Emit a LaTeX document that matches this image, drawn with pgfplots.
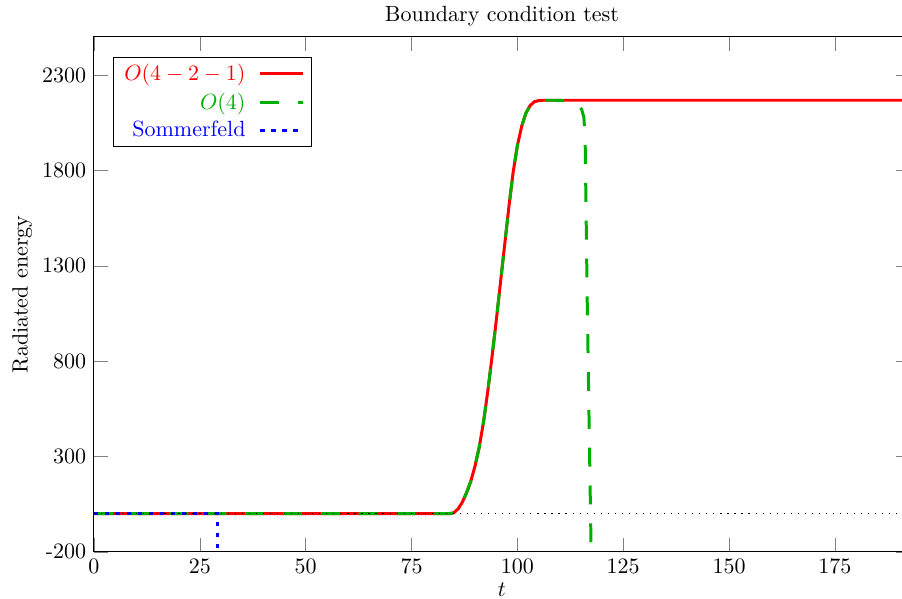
\documentclass[border=0pt]{standalone}
\usepackage{pgfplots}
\pgfplotsset{compat=1.18}
\definecolor{gpgreen}{RGB}{0,176,0}
\begin{document}
\begin{tikzpicture}
\begin{axis}[
  scale only axis, width=371pt, height=234.1pt,
  xmin=0, xmax=192.7, ymin=-200, ymax=2500,
  xtick={0,25,50,75,100,125,150,175},
  ytick={-200,300,800,1300,1800,2300},
  yticklabels={-200,300,800,1300,1800,2300},
  tick align=inside, major tick length=6.4pt,
  xlabel={$t$}, ylabel={Radiated energy},
  xlabel style={yshift=2.5pt},
  ylabel style={yshift=-2.3pt},
  title={Boundary condition test},
  title style={yshift=-4.5pt},
  legend plot pos=right,
  legend cell align=right,
  legend style={at={(0,1)}, anchor=north west, xshift=8.6pt, yshift=-9.1pt,
    draw=black, row sep=0pt, column sep=4pt, inner ysep=1pt},
  legend image code/.code={\draw[#1] (0pt,0pt) -- (19.5pt,0pt);},
]
\coordinate (sw) at (rel axis cs:0,0);
\coordinate (ne) at (rel axis cs:1,1);
\addplot[red, line width=1.36pt] coordinates {
(0,0) (84,0) (85,5) (86,25) (87,60) (88,110) (89,170) (90,250) (91,350) (92,480)
(93,640) (94,820) (95,1010) (96,1210) (97,1410) (98,1610) (99,1790) (100,1930)
(101,2030) (102,2100) (103,2140) (104,2160) (105,2166) (106,2168) (193,2168)};
\addlegendentry{\textcolor{red}{$O(4-2-1)$}}
\addplot[gpgreen, line width=1.36pt, dash pattern=on 8.6pt off 8.6pt] coordinates {
(0,0) (84,0) (85,5) (86,25) (87,60) (88,110) (89,170) (90,250) (91,350) (92,480)
(93,640) (94,820) (95,1010) (96,1210) (97,1410) (98,1610) (99,1790) (100,1930)
(101,2030) (102,2100) (103,2140) (104,2160) (105,2166) (106,2168) (109,2168)
(111,2166) (112.5,2162) (113.6,2156) (114.5,2142) (115.2,2118) (115.7,2080)
(116.0,1970) (116.5,1110) (117.15,178) (117.6,-450) (118,-1000)};
\addlegendentry{\textcolor{gpgreen}{$O(4)$}}
\addplot[blue, line width=1.36pt, dash pattern=on 2pt off 3pt] coordinates {
(0,0) (29.3,0) (29.3,-1000)};
\addlegendentry{\textcolor{blue}{Sommerfeld}}
\addplot[black, line width=0.45pt, dash pattern=on 0.55pt off 2.65pt, forget plot] coordinates {
(0,0) (193,0)};
\end{axis}
\pgfresetboundingbox
\useasboundingbox ([xshift=-42.7pt,yshift=-21.4pt]sw) rectangle ([xshift=-3.6pt,yshift=16.8pt]ne);
\end{tikzpicture}
\end{document}
